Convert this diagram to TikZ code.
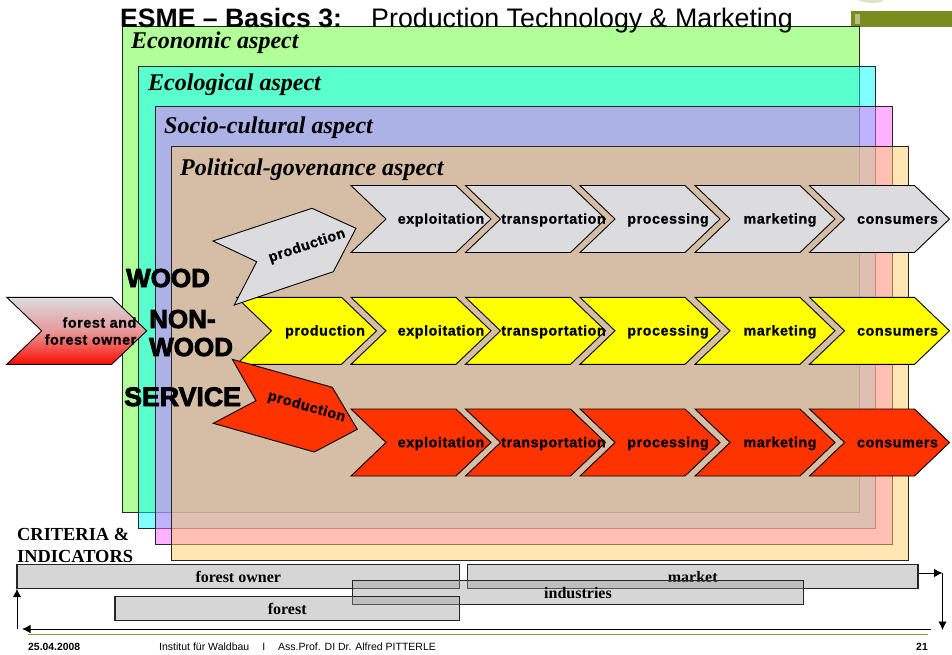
\documentclass[tikz,border=0pt]{standalone}
\usepackage{fontspec}
\setmainfont{Liberation Sans}
\newfontfamily\tms{Liberation Serif}
\newfontfamily\chevfont[LetterSpace=4,FakeBold=1]{Liberation Sans Bold}
\newfontfamily\heavyfont[FakeBold=3.2]{Liberation Sans Bold}
\usetikzlibrary{arrows.meta}
\definecolor{cgreen}{HTML}{66FF33}
\definecolor{ccyan}{HTML}{00FFFF}
\definecolor{cmag}{HTML}{FF66FF}
\definecolor{corange}{HTML}{FFCC66}
\definecolor{cgrey}{HTML}{DCDCDE}
\definecolor{cred}{HTML}{FF3300}
\definecolor{cyell}{HTML}{FFFF00}
\definecolor{olive}{HTML}{7A8C1E}
\definecolor{footline}{HTML}{80A040}
\tikzset{
  aspectbox/.style={draw=black!85,line width=1pt,fill opacity=0.5},
  aspecttitle/.style={anchor=base west,inner sep=0pt,font=\tms\bfseries\itshape\fontsize{24}{24}\selectfont},
  chevshape/.style={draw=black,line width=0.9pt},
  chevtext/.style={inner sep=0pt,font=\chevfont\fontsize{14.3}{17}\selectfont},
  heavy/.style={anchor=base west,inner sep=0pt,font=\heavyfont\fontsize{26}{26}\selectfont},
  barbox/.style={draw=black!85,line width=1.1pt,fill=black!40,fill opacity=0.4,text opacity=1,inner sep=0pt,font=\tms\bfseries\fontsize{16}{16}\selectfont},
  arrowline/.style={draw=black,line width=0.9pt,-{Latex[length=8.5pt,width=8.5pt]}},
}
% chevron: name, left x, top y, fill, label, label centre x
\newcommand{\chev}[6]{%
  \draw[chevshape,fill=#4] (#2,#3) -- ++(105,0) -- ++(35,33.5) -- ++(-35,33.5) -- ++(-105,0) -- ++(35,-33.5) -- cycle;
  \node[chevtext] (#1) at (#6,#3+34.5) {#5};
}
\newcommand{\chain}[3]{%
  \chev{#1a}{351}{#2}{#3}{exploitation}{441}
  \chev{#1b}{465.5}{#2}{#3}{transportation}{553.5}
  \chev{#1c}{580}{#2}{#3}{processing}{668}
  \chev{#1d}{695}{#2}{#3}{marketing}{780}
  \chev{#1e}{809.5}{#2}{#3}{consumers}{897.5}
}
\begin{document}
\begin{tikzpicture}[x=1pt,y=-1pt]
\useasboundingbox (0,0) rectangle (952,654);
% header logo
\fill[olive] (851,11) rectangle (952,27);
\fill[olive!55!white] (855,14) rectangle (860,24);
\fill[olive!25!white] (858,0) -- (884,0) .. controls (880,4) and (866,4) .. (858,0) -- cycle;
% aspects
\draw[aspectbox,fill=cgreen] (122,26) rectangle (859,512.7);
\draw[aspectbox,fill=ccyan] (138.5,66) rectangle (875.5,528.7);
\draw[aspectbox,fill=cmag] (155,106) rectangle (892,544.7);
\draw[aspectbox,fill=corange] (171,146) rectangle (908,560.5);
\node[anchor=base west,inner sep=0pt,font=\bfseries\fontsize{26.6}{27}\selectfont] (t1) at (120,27.5) {ESME – Basics 3:};
\node[anchor=base west,inner sep=0pt,font=\fontsize{26.8}{27}\selectfont] (t2) at (371,27.5) {Production Technology \& Marketing};
\node[aspecttitle] (a1) at (131,48) {Economic aspect};
\node[aspecttitle] (a2) at (148,90.5) {Ecological aspect};
\node[aspecttitle] (a3) at (164,133.5) {Socio-cultural aspect};
\node[aspecttitle] (a4) at (180,175.5) {Political-govenance aspect};
% chains
\chain{g}{185.5}{cgrey}
\chev{yp}{236.5}{297.3}{cyell}{production}{325}
\chain{y}{297.3}{cyell}
\chain{r}{409}{cred}
% angled production
\draw[chevshape,fill=cgrey] (213,241) -- (312,208.3) -- (356,228.3) -- (333.3,271.7) -- (234.3,305) -- (256.7,261.7) -- cycle;
\node[chevtext,rotate=18.5] (gp) at (307,246) {production};
\draw[chevshape,fill=cred] (232.3,359.3) -- (332.3,387.3) -- (357.3,429.3) -- (314.3,452) -- (213.3,423.3) -- (256,400.7) -- cycle;
\node[chevtext,rotate=-16] (rp) at (306.5,407) {production};
% forest owner
\shade[top color=cgrey,bottom color=red!90!orange,middle color=red!30!cgrey] (6.7,297.3) -- ++(105,0) -- ++(35,33.5) -- ++(-35,33.5) -- ++(-105,0) -- ++(35,-33.5) -- cycle;
\draw[chevshape] (6.7,297.3) -- ++(105,0) -- ++(35,33.5) -- ++(-35,33.5) -- ++(-105,0) -- ++(35,-33.5) -- cycle;
\node[chevtext,align=right,anchor=east] (fo) at (136.5,331) {forest and\\forest owner};
% big labels
\node[heavy] (w1) at (126,287) {WOOD};
\node[heavy] (w2) at (149,328) {NON-};
\node[heavy] (w3) at (149,356) {WOOD};
\node[heavy,font=\heavyfont\fontsize{26.7}{26}\selectfont] (w4) at (124,406) {SERVICE};
% criteria
\node[anchor=base west,inner sep=0pt,font=\tms\bfseries\fontsize{18.4}{22}\selectfont] (ci) at (17,540) {CRITERIA \&};
\node[anchor=base west,inner sep=0pt,font=\tms\bfseries\fontsize{18.4}{22}\selectfont] (ci2) at (17,562) {INDICATORS};
% bars
\node[barbox,minimum width=442.5pt,minimum height=24pt] (bfo) at (238.25,576.7) {forest owner};
\node[barbox,minimum width=450.5pt,minimum height=24pt] (bma) at (692.75,576.7) {market};
\node[barbox,minimum width=450.8pt,minimum height=24pt] (bin) at (578,592.7) {industries};
\node[barbox,minimum width=344.5pt,minimum height=24pt] (bfr) at (287.25,608.5) {forest};
% arrows
\coordinate (ar) at (942.5,573);
\coordinate (ad) at (942.5,630);
\coordinate (au) at (17,588.7);
\coordinate (as) at (17,629);
\coordinate (bs) at (931,629);
\coordinate (be) at (22,629);
\draw[arrowline] (bma.east |- ar) -- (ar);
\draw[arrowline] (ar) -- (ad);
\draw[arrowline] (as) -- (au);
\draw[arrowline] (bs) -- (be);
% footer
\draw[footline,line width=1pt] (28,634) -- (928,634);
\node[anchor=base west,inner sep=0pt,font=\bfseries\fontsize{10.4}{11}\selectfont] (f1) at (28,650) {25.04.2008};
\node[anchor=base west,inner sep=0pt,font=\fontsize{10.5}{11}\selectfont] (f2) at (159,650) {Institut für Waldbau\hspace{13pt}I\hspace{13pt}Ass.Prof. DI Dr. Alfred PITTERLE};
\node[anchor=base east,inner sep=0pt,font=\bfseries\fontsize{10.4}{11}\selectfont] (f3) at (928,650) {21};
\end{tikzpicture}
\end{document}
